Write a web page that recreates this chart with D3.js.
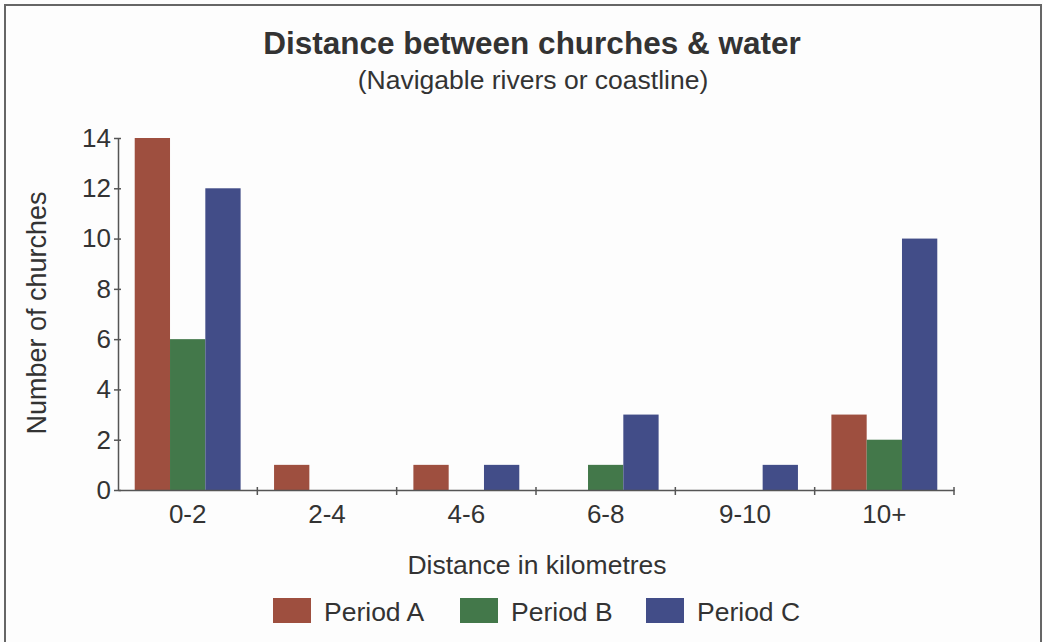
<!DOCTYPE html>
<html><head><meta charset="utf-8">
<script src="https://cdn.jsdelivr.net/npm/d3@7"></script>
<style>body{margin:0;background:#fff}svg{display:block}text{font-family:"Liberation Sans",Arial,sans-serif;fill:#333}</style>
</head><body><svg id="c" width="1043" height="642"></svg>
<script>
const categories = ["0-2","2-4","4-6","6-8","9-10","10+"];
const seriesNames = ["Period A","Period B","Period C"];
const periodA = [14,1,1,0,0,3];
const periodB = [6,0,0,1,0,2];
const periodC = [12,0,1,3,1,10];
const yTicks = [0,2,4,6,8,10,12,14];
const colors = ["#9e4f3f","#43784a","#424d88"];
const values = [periodA, periodB, periodC];

const svg = d3.select("#c");
svg.append("rect").attr("x",0).attr("y",0).attr("width",1043).attr("height",642).attr("fill","#fdfdfd");
svg.append("rect").attr("x",5).attr("y",5).attr("width",1036).attr("height",640)
  .attr("fill","none").attr("stroke","#666").attr("stroke-width",2);

const x0 = d3.scaleBand().domain(categories).range([118,954]).paddingInner(0.24).paddingOuter(0.12);
const x1 = d3.scaleBand().domain(seriesNames).range([0,x0.bandwidth()]);
const y = d3.scaleLinear().domain([0,14]).range([490,138]);

const data = categories.map((c,i)=>({cat:c, vals: seriesNames.map((s,j)=>({s, j, v: values[j][i]}))}));
const g = svg.append("g");
g.selectAll("g.grp").data(data).join("g").attr("transform",d=>`translate(${x0(d.cat)},0)`)
 .selectAll("rect").data(d=>d.vals.filter(e=>e.v>0)).join("rect")
 .attr("x",d=>x1(d.s)).attr("width",x1.bandwidth())
 .attr("y",d=>y(d.v)).attr("height",d=>y(0)-y(d.v))
 .attr("fill",d=>colors[d.j]);

// y axis
const ya = svg.append("g").attr("transform","translate(118,0)")
  .call(d3.axisLeft(y).tickValues(yTicks).tickSize(0).tickPadding(7));
ya.select(".domain").attr("stroke","#555").attr("stroke-width",1.5);
ya.selectAll("text").attr("font-size",26).attr("fill","#333").attr("font-family","Liberation Sans, Arial");
ya.selectAll(".tick").append("line").attr("x1",-4).attr("x2",3).attr("stroke","#555").attr("stroke-width",1.5);

// x axis
const xa = svg.append("g").attr("transform","translate(0,490)")
  .call(d3.axisBottom(x0).tickSize(0).tickPadding(12));
xa.select(".domain").attr("stroke","#555").attr("stroke-width",1.5);
xa.selectAll("text").attr("font-size",26).attr("fill","#333").attr("font-family","Liberation Sans, Arial").attr("dy","0.8em");
const bounds = categories.map(c=>x0(c)-x0.step()*x0.paddingInner()/2).slice(1).concat([954]);
xa.selectAll("line.b").data(bounds).join("line").attr("class","b")
  .attr("x1",d=>d).attr("x2",d=>d).attr("y1",-3).attr("y2",5).attr("stroke","#555").attr("stroke-width",1.5);

// titles
svg.append("text").attr("x",532).attr("y",54).attr("text-anchor","middle")
  .attr("font-size",31.5).attr("font-weight","bold").text("Distance between churches & water");
svg.append("text").attr("x",533).attr("y",89).attr("text-anchor","middle")
  .attr("font-size",26.5).text("(Navigable rivers or coastline)");
svg.append("text").attr("transform","translate(46,313) rotate(-90)").attr("text-anchor","middle")
  .attr("font-size",27).text("Number of churches");
svg.append("text").attr("x",537).attr("y",574).attr("text-anchor","middle")
  .attr("font-size",26.5).text("Distance in kilometres");

// legend
const legX = [273, 460, 646];
const lg = svg.append("g");
seriesNames.forEach((s,i)=>{
  lg.append("rect").attr("x",legX[i]).attr("y",598).attr("width",38).attr("height",25).attr("fill",colors[i]);
  lg.append("text").attr("x",legX[i]+51).attr("y",621).attr("font-size",26.5).text(s);
});
</script></body></html>
